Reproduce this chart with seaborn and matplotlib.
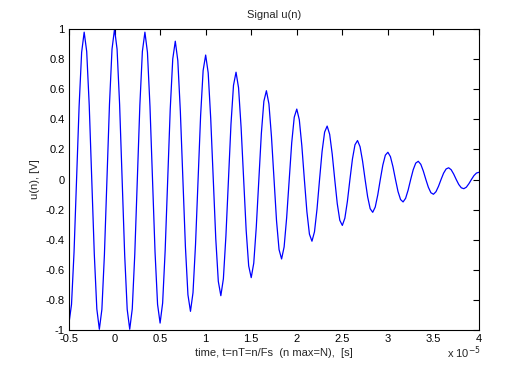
import numpy as np
import pandas as pd
import matplotlib
matplotlib.use("Agg")
import matplotlib.pyplot as plt
import seaborn as sns

# ---- data ----
t_start = -0.5e-5          # first sample time [s]
Ts = 0.5e-5 / 18           # sample spacing [s]
u_values = [
    -0.954, -0.830, -0.482, 0.000, 0.486, 0.845, 0.979, 0.851, 0.493, 0.000, -0.495, -0.860,
    -0.995, -0.863, -0.499, 0.000, 0.500, 0.866, 1.000, 0.866, 0.500, 0.000, -0.499, -0.863,
    -0.995, -0.860, -0.495, 0.000, 0.493, 0.851, 0.979, 0.845, 0.486, 0.000, -0.482, -0.830,
    -0.954, -0.821, -0.472, 0.000, 0.466, 0.801, 0.919, 0.790, 0.453, 0.000, -0.446, -0.766,
    -0.876, -0.752, -0.430, 0.000, 0.422, 0.724, 0.827, 0.709, 0.405, 0.000, -0.395, -0.677,
    -0.772, -0.660, -0.376, 0.000, 0.367, 0.626, 0.713, 0.609, 0.347, 0.000, -0.336, -0.574,
    -0.652, -0.556, -0.316, 0.000, 0.305, 0.520, 0.590, 0.502, 0.285, 0.000, -0.274, -0.466,
    -0.528, -0.448, -0.254, 0.000, 0.244, 0.414, 0.468, 0.397, 0.224, 0.000, -0.214, -0.363,
    -0.410, -0.347, -0.196, 0.000, 0.187, 0.315, 0.355, 0.300, 0.169, 0.000, -0.161, -0.271,
    -0.305, -0.257, -0.145, 0.000, 0.137, 0.231, 0.259, 0.218, 0.122, 0.000, -0.115, -0.194,
    -0.218, -0.183, -0.102, 0.000, 0.096, 0.162, 0.181, 0.152, 0.085, 0.000, -0.080, -0.133,
    -0.149, -0.125, -0.070, 0.000, 0.065, 0.109, 0.121, 0.101, 0.056, 0.000, -0.052, -0.088,
    -0.098, -0.081, -0.045, 0.000, 0.042, 0.070, 0.078, 0.065, 0.036, 0.000, -0.033, -0.055,
    -0.061, -0.051, -0.028, 0.000, 0.026, 0.043, 0.048,
]
x_ticks = [-0.5e-5, 0.0, 0.5e-5, 1.0e-5, 1.5e-5, 2.0e-5, 2.5e-5, 3.0e-5, 3.5e-5, 4.0e-5]
x_tick_labels = ["-0.5", "0", "0.5", "1", "1.5", "2", "2.5", "3", "3.5", "4"]
y_ticks = [-1, -0.8, -0.6, -0.4, -0.2, 0, 0.2, 0.4, 0.6, 0.8, 1]
y_tick_labels = ["-1", "-0.8", "-0.6", "-0.4", "-0.2", "0", "0.2", "0.4", "0.6", "0.8", "1"]

n = np.arange(len(u_values))
df = pd.DataFrame({"t": t_start + n * Ts, "u": u_values})

sns.set_style("white")
plt.rcParams["font.family"] = ["Liberation Sans", "DejaVu Sans"]

fig = plt.figure(figsize=(5.29, 3.72), dpi=100)
ax = fig.add_axes([0.1304, 0.1129, 0.7751, 0.8091])

sns.lineplot(data=df, x="t", y="u", ax=ax, color=(0, 0, 1), linewidth=0.9,
             sort=False, errorbar=None)

ax.set_xlim(-0.5e-5, 4e-5)
ax.set_ylim(-1, 1)
ax.set_xticks(x_ticks)
ax.set_xticklabels(x_tick_labels)
ax.set_yticks(y_ticks)
ax.set_yticklabels(y_tick_labels)
ax.tick_params(direction="in", length=4, width=0.8, top=True, right=True,
               labelsize=8, colors="black")
ax.tick_params(axis="x", pad=3)
ax.tick_params(axis="y", pad=3)
for s in ax.spines.values():
    s.set_visible(True)
    s.set_color("black")
    s.set_linewidth(0.8)

ax.set_title("Signal u(n)", fontsize=8, pad=8)
ax.set_xlabel("time, t=nT=n/Fs  (n max=N),  [s]", fontsize=8, labelpad=3)
ax.set_ylabel("u(n), [V]", fontsize=8, labelpad=4)
fig.text(0.845, 0.030, r"x 10$^{-5}$", fontsize=8, ha="left", va="bottom")

fig.savefig("out.png", dpi=100, facecolor="white")
